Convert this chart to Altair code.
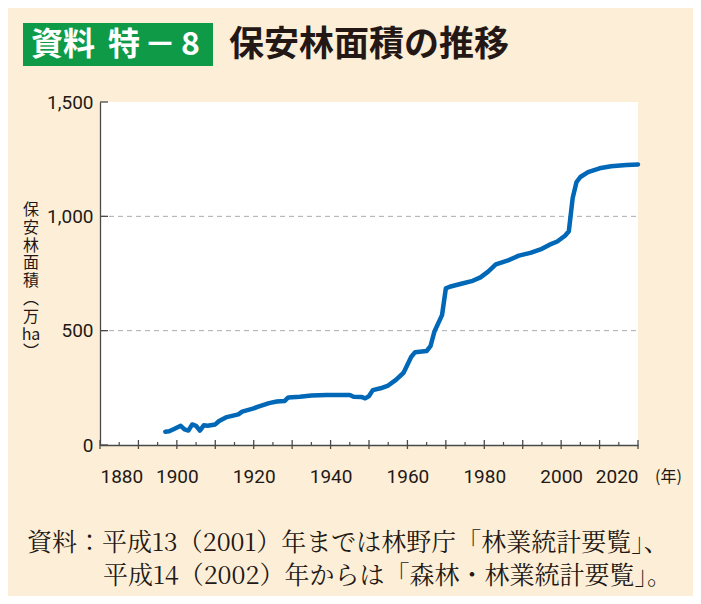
import altair as alt
import pandas as pd

# ---- data ----
years = [1897, 1898, 1899, 1901, 1902, 1903, 1904, 1905, 1906, 1907, 1908, 1910,
         1911, 1913, 1916, 1917, 1920, 1921, 1924, 1926, 1928, 1929, 1932, 1935,
         1939, 1945, 1946, 1948, 1949, 1950, 1951, 1953, 1955, 1957, 1959, 1961,
         1962, 1965, 1966, 1967, 1969, 1970, 1971, 1974, 1977, 1979, 1981, 1983,
         1986, 1989, 1992, 1995, 1997, 1999, 2001, 2002, 2003, 2004, 2005, 2007,
         2010, 2013, 2017, 2020]
area = [58, 60, 68, 84, 68, 63, 90, 84, 63, 86, 84, 90,
        105, 122, 134, 146, 160, 167, 183, 190, 192, 208, 211, 216,
        219, 219, 211, 210, 204, 214, 240, 248, 260, 285, 316, 386,
        406, 411, 432, 495, 568, 685, 692, 705, 718, 733, 758, 790,
        806, 828, 840, 858, 876, 890, 915, 935, 1080, 1150, 1172, 1193,
        1210, 1219, 1224, 1227]

x_label_values = [1880, 1900, 1920, 1940, 1960, 1980, 2000, 2020]
x_major_ticks = [1880, 1890, 1900, 1910, 1920, 1930, 1940, 1950, 1960, 1970,
                 1980, 1990, 2000, 2010, 2020]
x_minor_ticks = [1885, 1895, 1905, 1915, 1925, 1935, 1945, 1955, 1965, 1975,
                 1985, 1995, 2005, 2015]
y_values = [0, 500, 1000, 1500]
grid_values = [500, 1000]

badge_parts = ["資料", "特", "－", "8"]
title_text = "保安林面積の推移"
y_title_lines = ["保", "安", "林", "面", "積", "︵", "万", "ha", "︶"]
x_unit = "(年)"
note_line1 = "資料：平成13（2001）年までは林野庁「林業統計要覧」、"
note_line2 = "平成14（2002）年からは「森林・林業統計要覧」。"

W, H = 538, 343
BG = "#fdefd7"
INK = "#231815"
AXIS = "#4a4a4a"
NUMFONT = "Roboto"
JPFONT = "Noto Sans CJK JP"
SERIF = "Noto Serif CJK JP, Noto Sans CJK JP"

xscale = alt.Scale(domain=[1880, 2020], nice=False)
yscale = alt.Scale(domain=[0, 1500], nice=False)

df = pd.DataFrame({"year": years, "area": area})

line = alt.Chart(df).mark_line(
    color="#0068b7", strokeWidth=4.5, strokeCap="round", strokeJoin="round"
).encode(
    x=alt.X("year:Q", scale=xscale,
            axis=alt.Axis(values=x_label_values, format="d", ticks=False,
                          grid=False, title=None, domainColor=AXIS, domainWidth=1.3,
                          labelFont=NUMFONT, labelFontSize=19, labelColor=INK,
                          labelPadding=22)),
    y=alt.Y("area:Q", scale=yscale,
            axis=alt.Axis(values=y_values, format=",d", ticks=False, grid=False,
                          title=None, domainColor=AXIS, domainWidth=1.3,
                          labelFont=NUMFONT, labelFontSize=19, labelColor=INK,
                          labelPadding=7)),
)

grid = alt.Chart(pd.DataFrame({"v": grid_values})).mark_rule(
    color="#aaaaaa", strokeDash=[5, 4], strokeWidth=1
).encode(y=alt.Y("v:Q", scale=yscale), x=alt.value(0), x2=alt.value(W))

ytick = alt.Chart(pd.DataFrame({"v": y_values})).mark_rule(
    color=AXIS, strokeWidth=1.3
).encode(y=alt.Y("v:Q", scale=yscale), x=alt.value(0), x2=alt.value(8))

xmaj = alt.Chart(pd.DataFrame({"t": x_major_ticks})).mark_rule(
    color=AXIS, strokeWidth=1.3
).encode(x=alt.X("t:Q", scale=xscale), y=alt.value(H - 5), y2=alt.value(H + 4))

xmin = alt.Chart(pd.DataFrame({"t": x_minor_ticks})).mark_rule(
    color=AXIS, strokeWidth=1.2
).encode(x=alt.X("t:Q", scale=xscale), y=alt.value(H - 3), y2=alt.value(H))

one = pd.DataFrame({"k": [0]})

badge = alt.Chart(one).mark_rect(color="#0e9a47").encode(
    x=alt.value(-77), x2=alt.value(113), y=alt.value(-79), y2=alt.value(-36))

def badge_text(txt, x, align):
    return alt.Chart(one).mark_text(
        font=JPFONT, fontSize=32, fontWeight="bold", color="white",
        align=align, baseline="middle"
    ).encode(x=alt.value(x), y=alt.value(-57), text=alt.value(txt))

b1 = badge_text(badge_parts[0], -69, "left")
b2 = badge_text(badge_parts[1], 8, "left")
b3 = badge_text(badge_parts[2], 60, "center")
b4 = badge_text(badge_parts[3], 81, "left")

title_t = alt.Chart(one).mark_text(
    font=JPFONT, fontSize=35, fontWeight="bold", color=INK,
    align="left", baseline="middle"
).encode(x=alt.value(129), y=alt.value(-57), text=alt.value(title_text))

ytitle = alt.Chart(one).mark_text(
    font=JPFONT, fontSize=16, color=INK, align="center", baseline="top",
    lineHeight=17.8
).encode(x=alt.value(-69), y=alt.value(100), text=alt.value(y_title_lines))

xunit = alt.Chart(one).mark_text(
    font=JPFONT, fontSize=16, color=INK, align="left", baseline="middle"
).encode(x=alt.value(555), y=alt.value(375), text=alt.value(x_unit))

note1 = alt.Chart(one).mark_text(
    font=SERIF, fontSize=25, color=INK, align="left", baseline="middle"
).encode(x=alt.value(-73), y=alt.value(441), text=alt.value(note_line1))

note2 = alt.Chart(one).mark_text(
    font=SERIF, fontSize=25, color=INK, align="left", baseline="middle"
).encode(x=alt.value(3), y=alt.value(474), text=alt.value(note_line2))

chart = alt.layer(
    grid, line, ytick, xmaj, xmin, badge, b1, b2, b3, b4, title_t, ytitle, xunit,
    note1, note2
).properties(
    width=W, height=H,
    autosize=alt.AutoSizeParams(type="none"),
    padding={"left": 92, "top": 94, "right": 55, "bottom": 151},
    background=BG,
).configure_view(fill="white", stroke=None)

chart.save("out.html", embed_options={"renderer": "svg", "actions": False})
